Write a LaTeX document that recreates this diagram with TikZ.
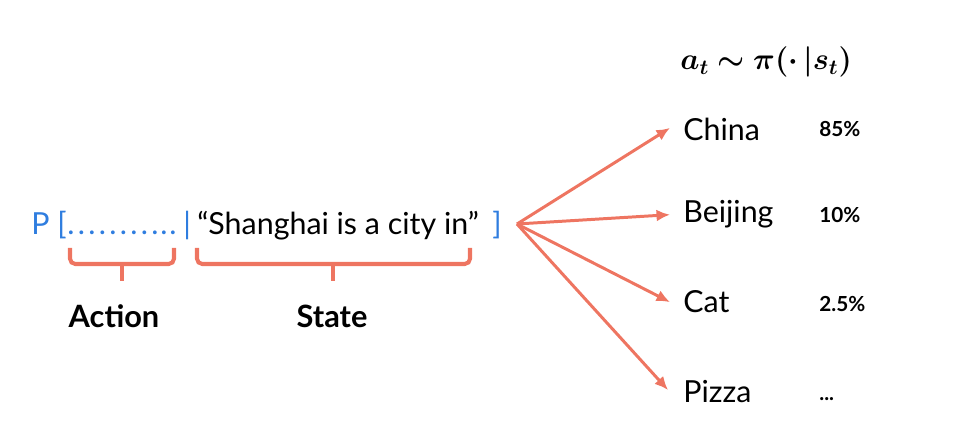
\documentclass[tikz,border=0pt]{standalone}
\usepackage{amsmath,bm}
\usepackage{fontspec}
\setmainfont{Lato}
\usetikzlibrary{arrows.meta,calc}

\definecolor{salmon}{HTML}{EE7561}
\definecolor{tokblue}{HTML}{2F7DDF}

\newcommand{\spdot}{.\kern1.9pt}

\tikzset{
	word/.style={anchor=base west, inner sep=0, font=\fontsize{17.3}{19}\selectfont},
	prob/.style={anchor=base west, inner sep=0, font=\fontsize{11.8}{13}\selectfont\bfseries},
	tag/.style={anchor=base, inner sep=0, font=\fontsize{17.5}{19}\selectfont\bfseries},
	arr/.style={salmon, line width=1.7pt, -{Latex[length=0.27cm, width=0.24cm]}},
	brace/.style={salmon, line width=2.3pt, rounded corners=3pt}
}

\begin{document}
\begin{tikzpicture}[x=0.02cm, y=-0.02cm]
	\useasboundingbox (0, 0) rectangle (962, 438);

	% prompt line
	\node [word, tokblue] (pre) at (31, 235) {P [};
	\node [word, tokblue] (act) at (67, 235) {\spdot\spdot\spdot\spdot\spdot\spdot\spdot\spdot.\kern1pt.\kern1pt.};
	\node [word, tokblue] (bar) at (183, 235) {|};
	\node [word] (state) at (197, 235) {“Shanghai is a city in”};
	\node [word, tokblue] (post) at (492, 235) {]};

	% braces
	\draw [brace] (70, 248) -- (70, 264) -- (174, 264) -- (174, 248);
	\draw [brace] (122, 264) -- (122, 281);
	\draw [brace] (197, 248) -- (197, 264) -- (470, 264) -- (470, 248);
	\draw [brace] (333, 264) -- (333, 281);

	\node [tag] (lblact) at (114, 328) {Action};
	\node [tag] (lblstate) at (332, 328) {State};

	% policy
	\node [anchor=base west, inner sep=0, font=\fontsize{18}{20}\selectfont] (pol) at (680, 70)
		{$\bm{a_t \sim \pi(\cdot\,|s_t)}$};

	\coordinate (src) at (517, 224);

	\node [word] (china) at (683, 141) {China};
	\node [word] (beijing) at (683, 223) {Beijing};
	\node [word] (cat) at (683, 313) {Cat};
	\node [word] (pizza) at (683, 402) {Pizza};

	\node [prob] (p1) at (819, 137) {85\%};
	\node [prob] (p2) at (819, 223) {10\%};
	\node [prob] (p3) at (819, 312) {2.5\%};
	\node [prob] (p4) at (819, 400) {...};

	\draw [arr] (src) -- ($(china.west)+(-13,-2)$);
	\draw [arr] (src) -- ($(beijing.west)+(-13,0)$);
	\draw [arr] (src) -- ($(cat.west)+(-13,0)$);
	\draw [arr] (src) -- ($(pizza.west)+(-15,-1)$);

\end{tikzpicture}
\end{document}
